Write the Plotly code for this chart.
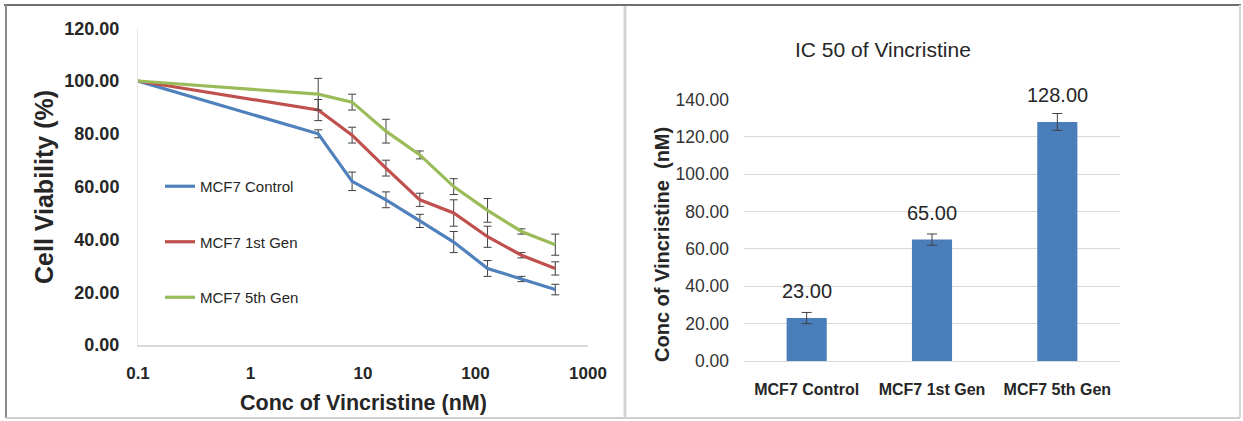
import plotly.graph_objects as go

# ---------------- data ----------------
conc_nM = [0.1, 4, 8, 16, 32, 64, 128, 256, 512]
control = [100, 80, 62, 55, 47, 39, 29, 25, 21]
control_err = [0, 1.5, 3.5, 3, 2.5, 4, 3, 1, 2]
gen1 = [100, 89, 79.5, 67, 55, 50, 41, 34, 29]
gen1_err = [0, 4, 3, 3, 2.5, 5, 4, 1, 2.5]
gen5 = [100, 95, 92, 81, 72, 60, 51, 43, 38]
gen5_err = [0, 6, 3, 4.5, 1.5, 3, 4.5, 1, 4]
series_names = ["MCF7 Control", "MCF7 1st Gen", "MCF7 5th Gen"]
series_colors = ["#4F81BD", "#C0504D", "#9BBB59"]

x_tickvals = [0.1, 1, 10, 100, 1000]
x_ticktext = ["0.1", "1", "10", "100", "1000"]
y1_tickvals = [0, 20, 40, 60, 80, 100, 120]

bar_categories = ["MCF7 Control", "MCF7 1st Gen", "MCF7 5th Gen"]
ic50_values = [23.00, 65.00, 128.00]
ic50_err = [3.0, 3.0, 4.5]
y2_tickvals = [0, 20, 40, 60, 80, 100, 120, 140]

W, H = 1243, 421
SANS = "Liberation Sans, Arial, sans-serif"

def px_x(p):
    return p / W

def px_y(p):
    return 1 - p / H

fig = go.Figure()

# ---------------- left: viability curves ----------------
for name, vals, errs, col in zip(series_names, [control, gen1, gen5],
                                 [control_err, gen1_err, gen5_err], series_colors):
    fig.add_trace(go.Scatter(
        x=conc_nM, y=vals, name=name, mode="lines",
        line=dict(color=col, width=3.2),
        error_y=dict(type="data", array=errs, color="#404040", thickness=1, width=4),
        legendgroup=name,
        xaxis="x", yaxis="y",
    ))

# ---------------- right: IC50 bars ----------------
fig.add_trace(go.Bar(
    x=bar_categories, y=ic50_values, marker=dict(color="#4A7EBB", line=dict(width=0)),
    error_y=dict(type="data", array=ic50_err, color="#404040", thickness=1, width=5),
    showlegend=False, xaxis="x2", yaxis="y2",
))

annotations = []
for cat, v in zip(bar_categories, ic50_values):
    annotations.append(dict(
        x=cat, y=v, xref="x2", yref="y2", text=f"{v:.2f}", showarrow=False,
        yshift=27, yanchor="middle", font=dict(family=SANS, size=20, color="#262626"),
    ))

annotations += [
    dict(text="<b>Cell Viability (%)</b>", x=px_x(44), y=px_y(187), xref="paper", yref="paper",
         showarrow=False, textangle=-90, font=dict(family=SANS, size=25, color="#262626"),
         xanchor="center", yanchor="middle"),
    dict(text="<b>Conc of Vincristine (nM)</b>", x=px_x(363), y=px_y(403), xref="paper", yref="paper",
         showarrow=False, font=dict(family=SANS, size=21.5, color="#262626"),
         xanchor="center", yanchor="middle"),
    dict(text="IC 50 of Vincristine", x=px_x(883), y=px_y(50), xref="paper", yref="paper",
         showarrow=False, font=dict(family=SANS, size=21, color="#262626"),
         xanchor="center", yanchor="middle"),
    dict(text="<b>Conc of Vincristine  (nM)</b>", x=px_x(662), y=px_y(245), xref="paper", yref="paper",
         showarrow=False, textangle=-90, font=dict(family=SANS, size=20, color="#262626"),
         xanchor="center", yanchor="middle"),
]

shapes = [
    dict(type="line", xref="paper", yref="paper", x0=px_x(4), x1=px_x(1241), y0=px_y(5), y1=px_y(5),
         line=dict(color="#6E6E6E", width=2)),
    dict(type="line", xref="paper", yref="paper", x0=px_x(6), x1=px_x(6), y0=px_y(5), y1=px_y(418),
         line=dict(color="#8C8C8C", width=2)),
    dict(type="line", xref="paper", yref="paper", x0=px_x(6), x1=px_x(1240), y0=px_y(418), y1=px_y(418),
         line=dict(color="#CFCFCF", width=2)),
    dict(type="line", xref="paper", yref="paper", x0=px_x(1240), x1=px_x(1240), y0=px_y(5), y1=px_y(418),
         line=dict(color="#D6D6D6", width=2)),
    dict(type="line", xref="paper", yref="paper", x0=px_x(625), x1=px_x(625), y0=px_y(6), y1=px_y(418),
         line=dict(color="#D3D3D3", width=3)),
]

fig.update_layout(
    width=W, height=H,
    margin=dict(l=0, r=0, t=0, b=0, autoexpand=False),
    paper_bgcolor="white", plot_bgcolor="white",
    showlegend=True,
    legend=dict(
        x=px_x(160), y=px_y(170), xanchor="left", yanchor="top",
        bgcolor="rgba(0,0,0,0)", borderwidth=0,
        font=dict(family=SANS, size=15, color="#262626"),
        tracegroupgap=33, itemwidth=30,
    ),
    bargap=0.68,
    annotations=annotations,
    shapes=shapes,
    xaxis=dict(
        type="log", domain=[px_x(138), px_x(588)], range=[-1, 3],
        tickvals=x_tickvals, ticktext=[f"<b>{t}</b>" for t in x_ticktext], showgrid=False,
        showline=True, linecolor="#D9D9D9", linewidth=2, ticks="", zeroline=False,
        tickfont=dict(family=SANS, size=17, color="#262626"), tickangle=0,
        ticklabelstandoff=12, anchor="y", automargin=False,
    ),
    yaxis=dict(
        domain=[px_y(345), px_y(28.2)], range=[0, 120], tickvals=y1_tickvals,
        ticktext=[f"<b>{v:.2f}</b>" for v in y1_tickvals],
        showgrid=False, showline=True, linecolor="#E6E6E6", linewidth=1,
        ticks="", zeroline=False,
        tickfont=dict(family=SANS, size=18, color="#262626"),
        ticklabelstandoff=14, anchor="x", automargin=False,
    ),
    xaxis2=dict(
        domain=[px_x(744), px_x(1120)], showgrid=False, showline=True, linecolor="#D9D9D9",
        ticks="", tickfont=dict(family=SANS, size=16, color="#262626"), tickangle=0,
        tickvals=bar_categories, ticktext=[f"<b>{c}</b>" for c in bar_categories],
        ticklabelstandoff=14, anchor="y2", type="category", automargin=False,
    ),
    yaxis2=dict(
        domain=[px_y(361), px_y(99.5)], range=[0, 140], tickvals=y2_tickvals,
        tickformat=".2f", showgrid=True, gridcolor="#D9D9D9", gridwidth=1,
        showline=False, ticks="", zeroline=False,
        tickfont=dict(family=SANS, size=17.5, color="#333333"),
        ticklabelstandoff=14, anchor="x2", automargin=False,
    ),
)

fig.write_html(
    "out.html",
    config={"displayModeBar": False},
    post_script="document.body.style.margin='0';document.body.style.overflow='hidden';",
)
